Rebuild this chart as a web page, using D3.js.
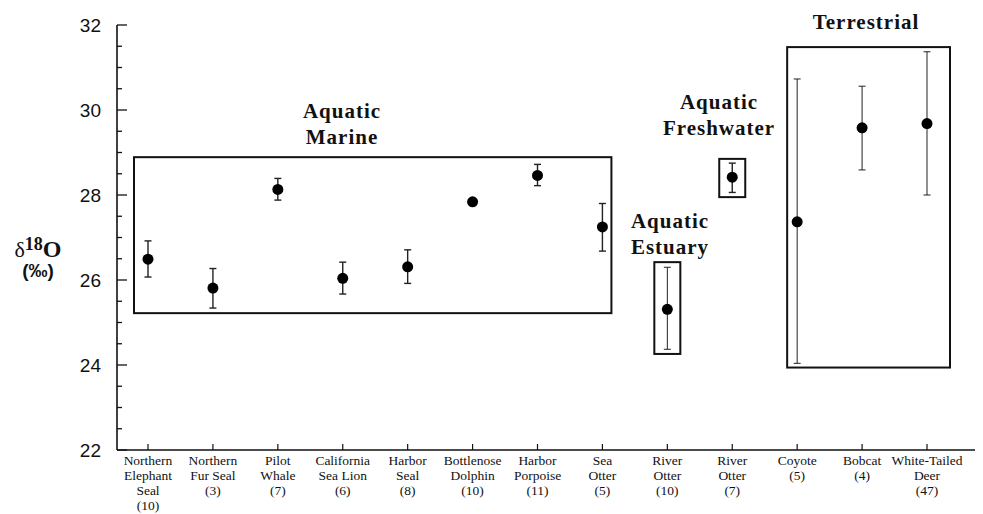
<!DOCTYPE html>
<html>
<head>
<meta charset="utf-8">
<script src="https://cdn.jsdelivr.net/npm/d3@7/dist/d3.min.js"></script>
<style>
  html, body { margin: 0; padding: 0; background: #fff; }
  svg { display: block; }
</style>
</head>
<body>
<svg id="chart" width="983" height="514"></svg>
<script>
// Species (label lines) and sample sizes
const categories = [
  ["Northern", "Elephant", "Seal", "(10)"],
  ["Northern", "Fur Seal", "(3)"],
  ["Pilot", "Whale", "(7)"],
  ["California", "Sea Lion", "(6)"],
  ["Harbor", "Seal", "(8)"],
  ["Bottlenose", "Dolphin", "(10)"],
  ["Harbor", "Porpoise", "(11)"],
  ["Sea", "Otter", "(5)"],
  ["River", "Otter", "(10)"],
  ["River", "Otter", "(7)"],
  ["Coyote", "(5)"],
  ["Bobcat", "(4)"],
  ["White-Tailed", "Deer", "(47)"]
];

// Mean δ18O (‰) and error-bar limits
const means = [26.49, 25.81, 28.13, 26.04, 26.31, 27.84, 28.46, 27.25, 25.31, 28.42, 27.37, 29.58, 29.68];
const upper = [26.92, 26.27, 28.39, 26.42, 26.71, 27.88, 28.72, 27.80, 26.30, 28.75, 30.73, 30.56, 31.37];
const lower = [26.07, 25.34, 27.88, 25.67, 25.92, 27.80, 28.22, 26.68, 24.37, 28.06, 24.04, 28.59, 28.00];

// Habitat groups: first/last category index and vertical extent of the enclosing box
const groupNames  = [["Aquatic", "Marine"], ["Aquatic", "Estuary"], ["Aquatic", "Freshwater"], ["Terrestrial"]];
const groupFirst  = [0, 8, 9, 10];
const groupLast   = [7, 8, 9, 12];
const groupTop    = [28.89, 26.42, 28.85, 31.48];
const groupBottom = [25.22, 24.26, 27.95, 23.94];

// Y axis ticks
const yMajorTicks = [22, 24, 26, 28, 30, 32];
const yMinorTicks = d3.range(22, 32.01, 0.5);

const svg = d3.select("#chart");

const y = d3.scaleLinear().domain([22, 32]).range([450, 25]);
const x = d3.scalePoint().domain(d3.range(categories.length)).range([148, 927]);

const axisX = 117;

// ---- Y axis ----
const yAxisG = svg.append("g").attr("transform", `translate(${axisX},0)`);
yAxisG.append("line")
  .attr("x1", 0).attr("x2", 0).attr("y1", y(32)).attr("y2", y(22))
  .attr("stroke", "#111").attr("stroke-width", 1.6);
yAxisG.selectAll("line.minor").data(yMinorTicks).join("line")
  .attr("class", "minor")
  .attr("x1", 0).attr("x2", d => (d % 2 === 0 ? 10 : 5))
  .attr("y1", d => y(d)).attr("y2", d => y(d))
  .attr("stroke", "#111").attr("stroke-width", 1.3);
yAxisG.selectAll("text").data(yMajorTicks).join("text")
  .attr("x", -16).attr("y", d => y(d)).attr("dy", "0.36em")
  .attr("text-anchor", "end")
  .attr("font-family", "Liberation Sans, Arial, sans-serif")
  .attr("font-size", 19)
  .attr("fill", "#111")
  .text(d => d);

// Y axis title: δ18O (‰)
const yTitle = svg.append("text")
  .attr("x", 38).attr("y", 257)
  .attr("text-anchor", "middle")
  .attr("fill", "#111");
yTitle.append("tspan").attr("font-family", "Liberation Serif, Times New Roman, serif")
  .attr("font-size", 22).text("δ");
yTitle.append("tspan").attr("font-family", "Liberation Serif, Times New Roman, serif")
  .attr("font-weight", "bold").attr("font-size", 18).attr("dy", -7).text("18");
yTitle.append("tspan").attr("font-family", "Liberation Serif, Times New Roman, serif")
  .attr("font-weight", "bold").attr("font-size", 24).attr("dy", 7).text("O");
svg.append("text")
  .attr("x", 38).attr("y", 277)
  .attr("text-anchor", "middle")
  .attr("font-family", "Liberation Sans, Arial, sans-serif")
  .attr("font-weight", "bold").attr("font-size", 19)
  .attr("fill", "#111")
  .text("(‰)");

// ---- X axis ----
const xAxisG = svg.append("g");
xAxisG.append("line")
  .attr("x1", axisX).attr("x2", 975).attr("y1", y(22)).attr("y2", y(22))
  .attr("stroke", "#111").attr("stroke-width", 1.6);
xAxisG.selectAll("line.tick").data(d3.range(categories.length)).join("line")
  .attr("class", "tick")
  .attr("x1", d => x(d)).attr("x2", d => x(d))
  .attr("y1", y(22)).attr("y2", y(22) - 6)
  .attr("stroke", "#111").attr("stroke-width", 1.2);

const catLabels = xAxisG.selectAll("text.cat").data(categories).join("text")
  .attr("class", "cat")
  .attr("text-anchor", "middle")
  .attr("font-family", "Liberation Serif, Times New Roman, serif")
  .attr("font-size", 13.5)
  .attr("fill", "#111");
catLabels.selectAll("tspan").data((d, i) => d.map(line => ({ line, i }))).join("tspan")
  .attr("x", d => x(d.i))
  .attr("y", (d, j) => 465 + j * 15)
  .text(d => d.line);

// ---- Habitat boxes ----
const boxPadLeft  = [14, 13, 13, 10];
const boxPadRight = [9, 13, 13, 23];
svg.append("g").selectAll("rect").data(groupNames).join("rect")
  .attr("x", (d, i) => x(groupFirst[i]) - boxPadLeft[i])
  .attr("y", (d, i) => y(groupTop[i]))
  .attr("width", (d, i) => x(groupLast[i]) + boxPadRight[i] - (x(groupFirst[i]) - boxPadLeft[i]))
  .attr("height", (d, i) => y(groupBottom[i]) - y(groupTop[i]))
  .attr("fill", "none")
  .attr("stroke", "#111")
  .attr("stroke-width", 2);

// Group titles
const groupLabelX = [342, 670, 719, 866];
const groupLabelY = [118, 228, 109, 29];
svg.append("g").selectAll("text").data(groupNames).join("text")
  .attr("text-anchor", "middle")
  .attr("font-family", "Liberation Serif, Times New Roman, serif")
  .attr("font-weight", "bold")
  .attr("font-size", 21)
  .attr("letter-spacing", 1)
  .attr("fill", "#111")
  .selectAll("tspan").data((d, i) => d.map(line => ({ line, i }))).join("tspan")
  .attr("x", d => groupLabelX[d.i])
  .attr("y", (d, j) => groupLabelY[d.i] + j * 26)
  .text(d => d.line);

// ---- Error bars and means ----
const thinBars = new Set([8, 10, 11, 12]);
const bars = svg.append("g");
means.forEach((m, i) => {
  const cx = x(i);
  const sw = thinBars.has(i) ? 1 : 1.4;
  bars.append("line")
    .attr("x1", cx).attr("x2", cx).attr("y1", y(upper[i])).attr("y2", y(lower[i]))
    .attr("stroke", "#222").attr("stroke-width", sw);
  [upper[i], lower[i]].forEach(v => {
    bars.append("line")
      .attr("x1", cx - 3.5).attr("x2", cx + 3.5).attr("y1", y(v)).attr("y2", y(v))
      .attr("stroke", "#222").attr("stroke-width", sw);
  });
});
svg.append("g").selectAll("circle").data(means).join("circle")
  .attr("cx", (d, i) => x(i))
  .attr("cy", d => y(d))
  .attr("r", 5.5)
  .attr("fill", "#000");
</script>
</body>
</html>
